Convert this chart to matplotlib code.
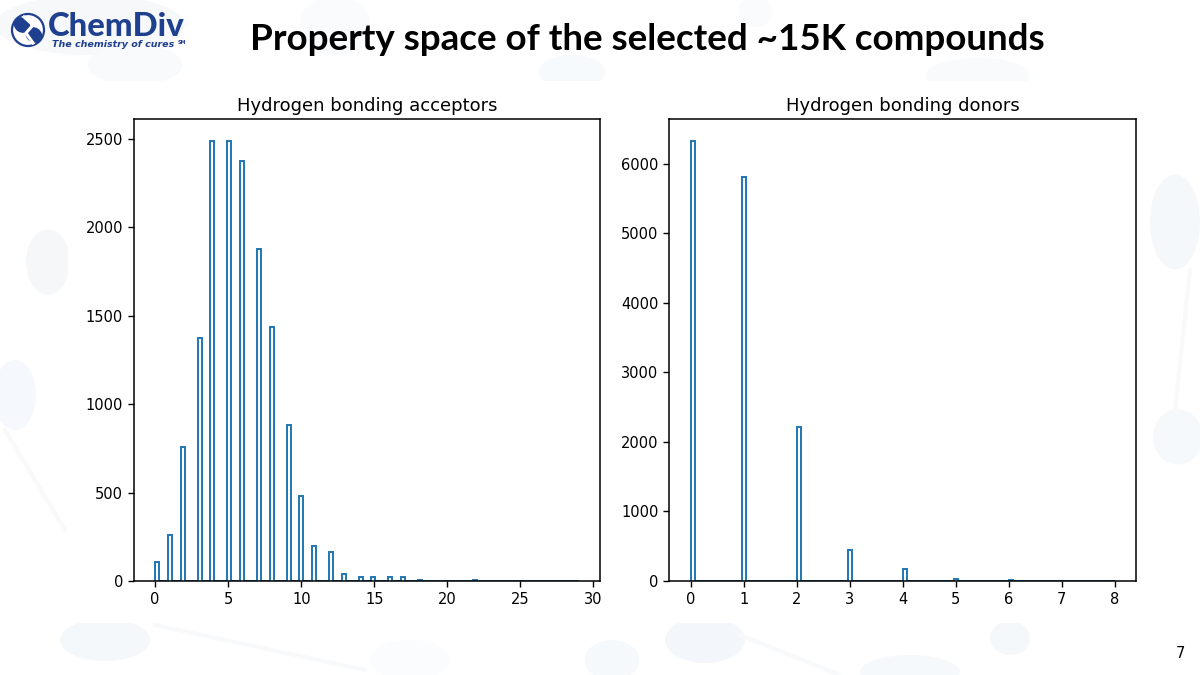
import matplotlib
matplotlib.use("Agg")
import matplotlib.pyplot as plt
from matplotlib.patches import Ellipse, Circle, Rectangle

# Data
acceptor_values = list(range(0, 30))
acceptor_counts = [110, 260, 760, 1375, 2488, 2488, 2375, 1875, 1435, 880,
                   480, 200, 165, 40, 25, 20, 22, 20, 6, 2,
                   2, 1, 3, 1, 1, 1, 1, 1, 1, 1]
donor_values = [0, 1, 2, 3, 4, 5, 6, 7, 8]
donor_counts = [6330, 5810, 2220, 440, 170, 25, 12, 2, 1]

slide_title = "Property space of the selected ~15K compounds"
left_title = "Hydrogen bonding acceptors"
right_title = "Hydrogen bonding donors"
page_number = "7"

W, H = 1200, 675
line_color = "#1f77b4"

fig = plt.figure(figsize=(12, 6.75), dpi=100, facecolor="white")

# faint slide background, pixel coordinates
bg = fig.add_axes([0, 0, 1, 1], zorder=0)
bg.set_xlim(0, W)
bg.set_ylim(H, 0)
bg.axis("off")
blobs = [(90, 25, 190, 60, "#f6f8fa"), (135, 65, 95, 40, "#f8fafc"), (335, 25, 70, 60, "#f9fbfd"),
         (572, 72, 66, 34, "#f7fafc"), (755, 12, 34, 30, "#f9fbfd"), (978, 75, 104, 34, "#f8fafc"),
         (1175, 222, 50, 95, "#f5f8fa"), (1178, 437, 50, 55, "#f5f9fb"),
         (48, 262, 44, 65, "#f5f7f9"), (15, 395, 42, 70, "#f5f8fc"),
         (105, 640, 90, 42, "#f4f8fb"), (410, 660, 80, 40, "#fbfcfd"), (612, 660, 55, 40, "#f5f9fc"),
         (705, 640, 80, 46, "#f3f7fb"), (910, 672, 100, 34, "#f6f9fb"), (1010, 638, 40, 34, "#f4f8fa")]
for x, y, w, h, c in blobs:
    bg.add_patch(Ellipse((x, y), w, h, color=c, lw=0))
# thin bonds between the blobs
bonds = [((155, 625), (365, 670)), ((740, 635), (840, 675)), ((1190, 270), (1175, 410)),
         ((5, 430), (65, 530))]
for p, q in bonds:
    bg.plot([p[0], q[0]], [p[1], q[1]], color="#f8f9fb", lw=3)
# white picture area pasted over the slide
bg.add_patch(Rectangle((68, 81), 1082, 542, color="white", lw=0, zorder=3))

# logo
navy = "#1f3f8f"
bg.add_patch(Circle((28, 30), 16, fc="white", ec=navy, lw=1.6))
bg.add_patch(Ellipse((22, 25), 17, 15, angle=35, color=navy, lw=0))
bg.add_patch(Ellipse((34, 35), 17, 15, angle=35, color=navy, lw=0))
bg.plot([24, 33, 26, 33], [17, 25, 33, 43], color="white", lw=2.2)
bg.text(48, 26, "ChemDiv", fontsize=23.7, fontweight="black", color=navy,
        family="Lato", ha="left", va="center")
bg.text(52, 44.5, "The chemistry of cures", fontsize=6.8, fontweight="bold", style="italic",
        color=navy, family="DejaVu Sans", ha="left", va="center")
bg.text(178, 42, "SM", fontsize=3.5, fontweight="bold", color=navy, ha="left", va="center")

bg.text(647, 39, slide_title, fontsize=26.5, fontweight="bold", color="black",
        family="Lato", ha="center", va="center")
bg.text(1180, 653, page_number, fontsize=10.5, color="black", ha="center", va="center")


def px_axes(left, top, right, bottom):
    return fig.add_axes([left / W, 1 - bottom / H, (right - left) / W, (bottom - top) / H], zorder=1)


ax1 = px_axes(134, 119, 600, 581)
ax1.hist(acceptor_values, bins=100, weights=acceptor_counts, histtype="step", color=line_color, lw=1.4)
ax1.set_title(left_title, fontsize=13, pad=6)
ax1.set_xticks([0, 5, 10, 15, 20, 25, 30])
ax1.set_yticks([0, 500, 1000, 1500, 2000, 2500])

ax2 = px_axes(669.5, 119, 1136, 581)
ax2.hist(donor_values, bins=100, weights=donor_counts, histtype="step", color=line_color, lw=1.4)
ax2.set_title(right_title, fontsize=13, pad=6)
ax2.set_xticks(donor_values)
ax2.set_yticks([0, 1000, 2000, 3000, 4000, 5000, 6000])

for ax in (ax1, ax2):
    ax.tick_params(labelsize=10.5, length=4.5, width=1)
    ax.set_ylim(bottom=0)
    for s in ax.spines.values():
        s.set_linewidth(1.1)

fig.savefig("out.png", dpi=100)
